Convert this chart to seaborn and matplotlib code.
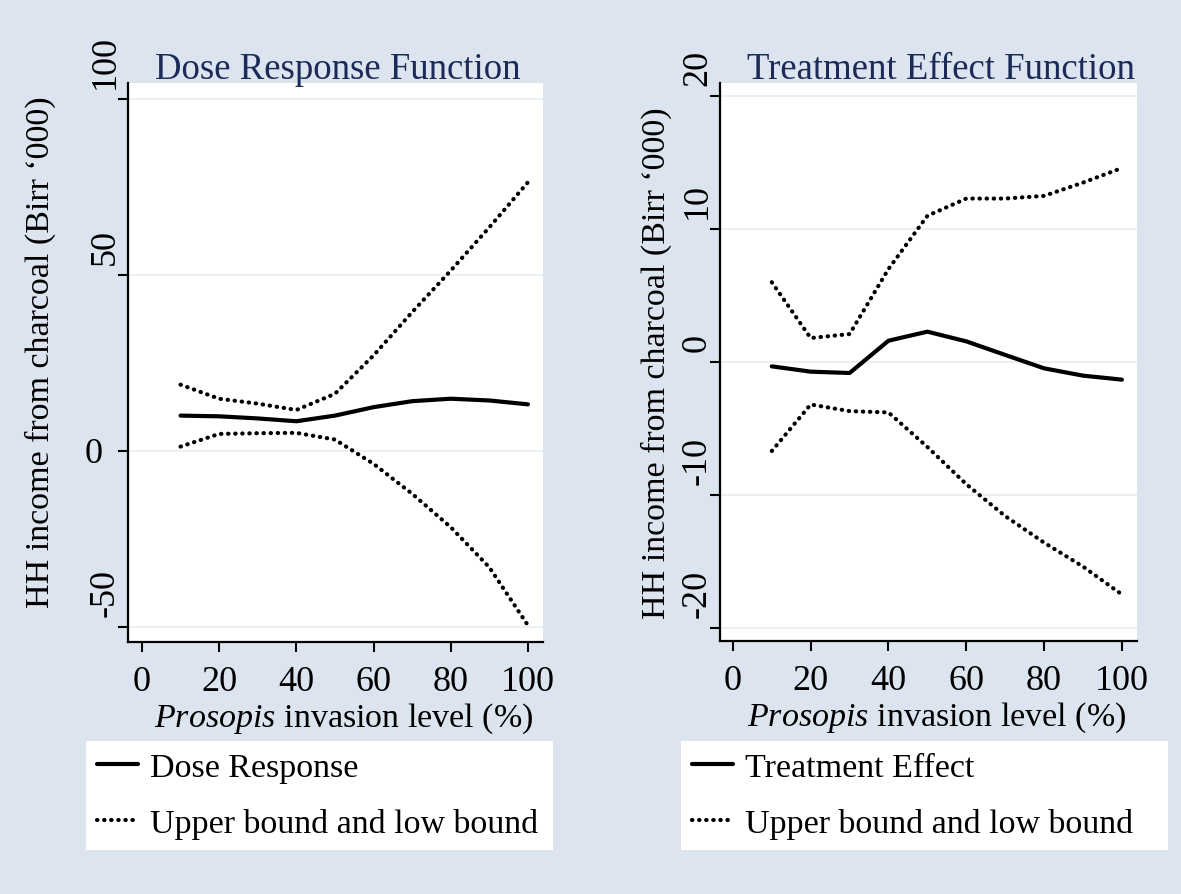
import numpy as np
import pandas as pd
import matplotlib
matplotlib.use("Agg")
import matplotlib.pyplot as plt
import seaborn as sns
from matplotlib.transforms import offset_copy

# invasion level (%)
invasion = [10, 20, 30, 40, 50, 60, 70, 80, 90, 100]

# Dose response function (Birr '000)
dose_response = [10.0, 9.8, 9.2, 8.4, 10.0, 12.4, 14.1, 14.8, 14.3, 13.2]
dose_upper = [18.8, 14.8, 13.4, 11.6, 16.2, 27.1, 39.4, 51.2, 63.5, 76.3]
dose_lower = [1.2, 4.8, 5.0, 5.1, 3.2, -3.7, -12.2, -21.7, -33.1, -49.6]

# Treatment effect function (Birr '000)
treat_effect = [-0.33, -0.73, -0.83, 1.6, 2.28, 1.55, 0.53, -0.48, -1.03, -1.33]
treat_upper = [6.0, 1.8, 2.1, 7.0, 11.0, 12.3, 12.3, 12.5, 13.5, 14.6]
treat_lower = [-6.7, -3.2, -3.7, -3.8, -6.4, -9.2, -11.6, -13.6, -15.4, -17.5]

x_ticks = [0, 20, 40, 60, 80, 100]
dose_yticks = [-50, 0, 50, 100]
treat_yticks = [-20, -10, 0, 10, 20]

titles = ["Dose Response Function", "Treatment Effect Function"]
main_labels = ["Dose Response", "Treatment Effect"]
band_label = "Upper bound and low bound"
ylabel = "HH income from charcoal (Birr \u2018000)"
xlabel = r"$\mathit{Prosopis}$ invasion level (%)"

sns.set_theme(style="white")
plt.rcParams["font.family"] = ["Liberation Serif", "DejaVu Serif"]
plt.rcParams["mathtext.fontset"] = "custom"
plt.rcParams["mathtext.rm"] = "Liberation Serif"
plt.rcParams["mathtext.it"] = "Liberation Serif:italic"
plt.rcParams["text.color"] = "black"
plt.rcParams["axes.labelcolor"] = "black"
plt.rcParams["xtick.color"] = "black"
plt.rcParams["ytick.color"] = "black"

bg = "#dce5ef"
navy = "#1c2a58"
dotted = (0, (0.1, 1.6))

fig = plt.figure(figsize=(11.81, 8.95), dpi=100, facecolor=bg)
ax1 = fig.add_axes([0.1084, 0.2816, 0.3514, 0.6246])
ax2 = fig.add_axes([0.6097, 0.2827, 0.3531, 0.6235])

df1 = pd.DataFrame({"x": invasion, "mid": dose_response, "up": dose_upper, "lo": dose_lower})
df2 = pd.DataFrame({"x": invasion, "mid": treat_effect, "up": treat_upper, "lo": treat_lower})

panels = [
    (ax1, df1, dose_yticks, (-54.3, 104.5), (-3.6, 103.9), main_labels[0], titles[0], 0.505, -0.212, 0.52,
     [0.0728, 0.0525, 0.3954, 0.1184], True),
    (ax2, df2, treat_yticks, (-21.0, 21.0), (-3.3, 103.9), main_labels[1], titles[1], 0.53, -0.152, 0.5,
     [0.5766, 0.0525, 0.4124, 0.1184], False),
]

for ax, df, yt, ylim, xlim, mlab, title, tx, ylx, yly, lbox, upright_zero in panels:
    ax.set_facecolor("white")
    sns.lineplot(data=df, x="x", y="mid", ax=ax, color="black", lw=3.0, label=mlab, legend=False)
    sns.lineplot(data=df, x="x", y="up", ax=ax, color="black", lw=3.0, linestyle=dotted,
                 dash_capstyle="round", label=band_label, legend=False)
    sns.lineplot(data=df, x="x", y="lo", ax=ax, color="black", lw=3.0, linestyle=dotted,
                 dash_capstyle="round", label="_nolegend_", legend=False)

    ax.set_xlim(*xlim)
    ax.set_ylim(*ylim)
    ax.set_xticks(x_ticks)
    ax.set_xticklabels([str(v) for v in x_ticks], fontsize=26)
    ax.set_yticks(yt)
    ax.set_yticklabels([])

    for s in ["top", "right"]:
        ax.spines[s].set_visible(False)
    for s in ["left", "bottom"]:
        ax.spines[s].set_color("black")
        ax.spines[s].set_linewidth(1.6)

    ax.tick_params(axis="both", bottom=True, left=True, direction="out", length=7.5,
                   width=1.5, color="black", pad=9)
    ax.set_axisbelow(True)
    ax.yaxis.grid(True, color="#e8eef2", lw=1.3)
    ax.xaxis.grid(False)

    # rotated y tick labels, Stata-like (shifted above the tick)
    rot_tr = offset_copy(ax.get_yaxis_transform(), fig=fig, x=-6, y=11, units="dots")
    up_tr = offset_copy(ax.get_yaxis_transform(), fig=fig, x=-25, y=-3, units="dots")
    for v in yt:
        if v == 0 and upright_zero:
            ax.text(0, v, "0", transform=up_tr, ha="right", va="center", fontsize=26)
        else:
            ax.text(0, v, str(v), transform=rot_tr, ha="right", va="bottom",
                    rotation=90, fontsize=26)

    ax.set_xlabel(xlabel, fontsize=24.5)
    ax.xaxis.set_label_coords(0.52, -0.136)
    ax.xaxis.label.set_va("center")
    ax.set_ylabel(ylabel, fontsize=24.5)
    ax.yaxis.set_label_coords(ylx, yly)
    ax.yaxis.label.set_va("center")

    ax.text(tx, 1.009, title, transform=ax.transAxes, ha="center", va="baseline",
            fontsize=26.5, color=navy)

    leg = ax.legend(loc="upper left", bbox_to_anchor=lbox, bbox_transform=fig.transFigure,
                    mode="expand", frameon=True, fancybox=False, framealpha=1,
                    edgecolor="white", facecolor="white", fontsize=24.5,
                    handlelength=1.2, handletextpad=0.35, borderpad=0.32,
                    labelspacing=0.75, borderaxespad=0)
    leg.get_frame().set_linewidth(0)

fig.savefig("out.png", dpi=100, facecolor=bg)
